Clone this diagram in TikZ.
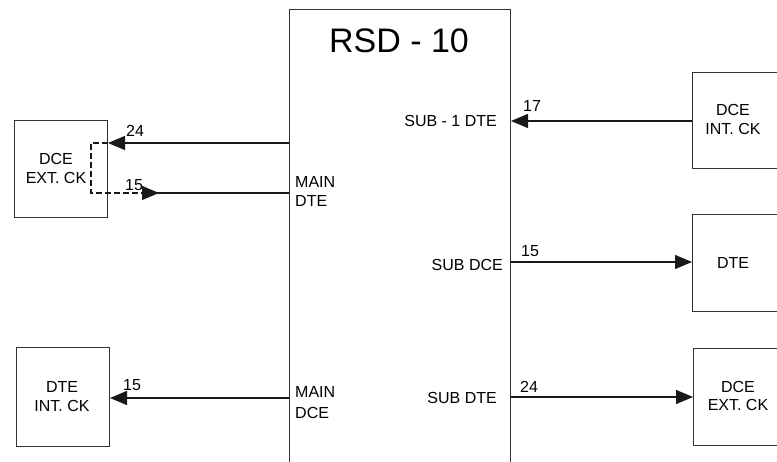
\documentclass[tikz,border=0pt]{standalone}
\usepackage{fontspec}
\setmainfont{Liberation Sans}
\usetikzlibrary{arrows.meta}
\begin{document}
\begin{tikzpicture}[x=1pt,y=-1pt,
  box/.style={draw=black!80, line width=1pt, inner sep=0pt, fill=none},
  txt/.style={inner sep=0pt, text=black, font=\fontsize{16}{19}\selectfont},
  wire/.style={draw=black!90, line width=1.3pt},
  arr/.style={wire, -{Triangle[length=17pt,width=14pt]}},
  dashwire/.style={draw=black!90, line width=1.3pt, dash pattern=on 6pt off 3pt}]
\useasboundingbox (0,0) rectangle (777,462);
% main box
\node[box, minimum width=221, minimum height=480, anchor=north west] (rsd) at (289,9) {};
\node[inner sep=0pt, anchor=base, font=\fontsize{34}{40}\selectfont, text=black] (title) at (399,53) {RSD - 10};
% left boxes
\node[box, minimum width=93, minimum height=97, anchor=north west] (dceext) at (14,120) {};
\node[txt, anchor=base] (dceextA) at (56,165) {DCE};
\node[txt, anchor=base] (dceextB) at (56,184) {EXT. CK};
\node[box, minimum width=93, minimum height=99, anchor=north west] (dteint) at (16,347) {};
\node[txt, anchor=base] (dteintA) at (62,393) {DTE};
\node[txt, anchor=base] (dteintB) at (62,412) {INT. CK};
% right boxes
\node[box, minimum width=100, minimum height=96, anchor=north west] (dceint) at (692,72) {};
\node[txt, anchor=base] (dceintA) at (733,116) {DCE};
\node[txt, anchor=base] (dceintB) at (733,135) {INT. CK};
\node[box, minimum width=100, minimum height=97, anchor=north west] (dte) at (692,214) {};
\node[txt, anchor=base] (dteA) at (733,269) {DTE};
\node[box, minimum width=100, minimum height=97, anchor=north west] (dceext2) at (693,348) {};
\node[txt, anchor=base] (dceext2A) at (738,392) {DCE};
\node[txt, anchor=base] (dceext2B) at (738,410) {EXT. CK};
% port labels inside main box
\node[txt, anchor=base west] (mdteA) at (295,188) {MAIN};
\node[txt, anchor=base west] (mdteB) at (295,207) {DTE};
\node[txt, anchor=base west] (mdceA) at (295,398) {MAIN};
\node[txt, anchor=base west] (mdceB) at (295,418) {DCE};
\node[txt, anchor=base east] (sub1) at (497,127) {SUB - 1 DTE};
\node[txt, anchor=base east] (subdce) at (503,271) {SUB DCE};
\node[txt, anchor=base east] (subdte) at (497,403) {SUB DTE};
% wire numbers
\node[txt, anchor=base west] (n24a) at (126,137) {24};
\node[txt, anchor=base west] (n15a) at (125,191) {15};
\node[txt, anchor=base west] (n15b) at (123,391) {15};
\node[txt, anchor=base west] (n17) at (523,112) {17};
\node[txt, anchor=base west] (n15c) at (521,257) {15};
\node[txt, anchor=base west] (n24b) at (520,392) {24};
% connectors
\coordinate (c24) at (rsd.west |- 0,143);
\coordinate (c15) at (rsd.west |- 0,193);
\coordinate (d1) at (91,143);
\coordinate (d2) at (91,193);
\coordinate (d3) at (142,193);
\coordinate (d4) at (159,193);
\draw[arr] (c24) -- (dceext.east |- c24);
\draw[dashwire] (dceext.east |- c24) -- (d1) -- (d2) -- (d3);
\draw[wire] (c15) -- (150,193);
\draw[arr] (d3) -- (d4);
\draw[arr] (rsd.west |- 0,398) -- (dteint.east |- 0,398);
\draw[arr] (dceint.west |- 0,121) -- (rsd.east |- 0,121);
\draw[arr] (rsd.east |- 0,262) -- (dte.west |- 0,262);
\draw[arr] (rsd.east |- 0,397) -- (dceext2.west |- 0,397);
\end{tikzpicture}
\end{document}
